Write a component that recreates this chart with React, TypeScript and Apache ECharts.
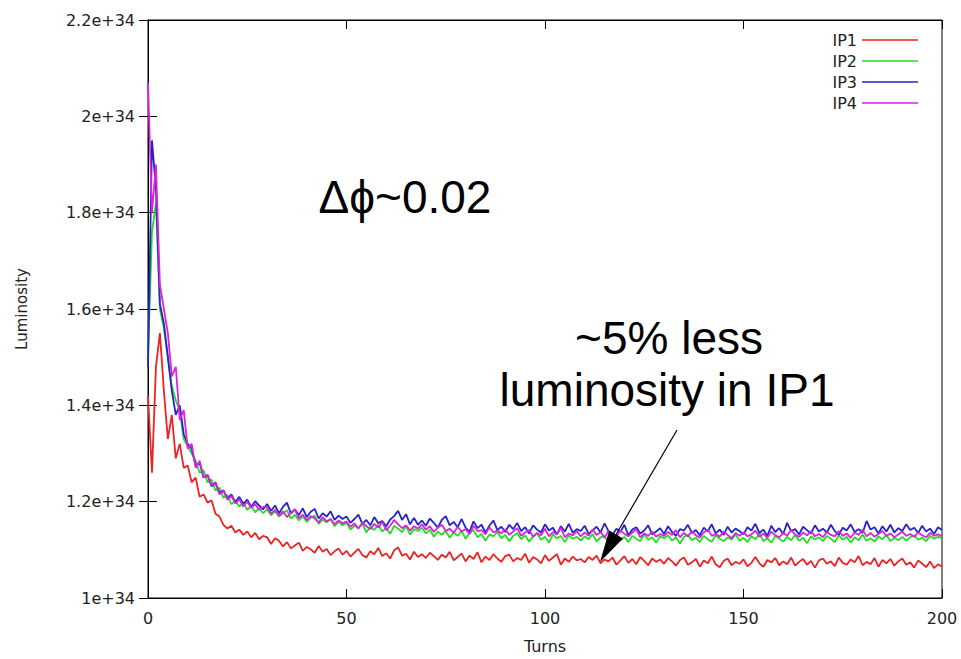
import React, { useEffect, useRef } from "react";
import * as echarts from "echarts";

// Luminosity values in units of 1e32 (one value per turn, turns 0..200)
const ip1: number[] = [
  142, 126, 148, 155, 143, 133, 138, 129, 132, 127, 127.5, 124, 125, 121, 121.5,
  119.8, 120.3, 117.5, 116.9, 115.2, 114.4, 115.0, 113.6, 114.2, 113.1, 113.8, 112.6, 113.5, 112.2, 112.9,
  112.6, 111.2, 112.4, 111.9, 110.7, 111.6, 110.3, 110.9, 111.5, 109.8, 110.6, 110.1, 109.4, 110.8, 109.6, 110.2, 108.9, 109.7, 110.3, 109.0,
  109.8, 108.6, 109.4, 110.2, 108.9, 108.4, 109.7, 109.1, 110.4, 108.7, 109.3, 108.2, 109.9, 110.5, 108.8, 109.2, 108.0, 109.6, 108.5, 109.1,
  108.3, 109.4, 108.7, 107.9, 109.0, 108.4, 109.6, 107.8, 108.5, 109.2, 107.6, 108.8, 108.1, 109.5, 107.4, 108.6, 107.9, 109.1, 108.2, 107.5,
  108.7, 109.0, 107.6, 108.3, 107.9, 109.2, 107.3, 108.5, 108.0, 107.2, 108.9, 107.7, 108.4, 109.1, 106.9, 108.2, 107.5, 108.6, 107.8, 108.1,
  107.4, 108.5, 107.9, 108.8, 107.2, 108.0, 107.6, 108.4, 106.9, 107.8, 108.7, 107.3, 108.1, 107.0, 108.5, 107.7, 106.8, 108.2, 107.5, 108.0,
  107.1, 108.3, 107.6, 106.7, 107.9, 108.4, 106.9, 107.4, 108.1, 106.5, 107.8, 107.2, 108.6, 107.0, 106.4, 107.7, 108.2, 106.8, 107.5, 107.1,
  108.0, 106.6, 107.3, 108.5, 107.2, 106.5, 107.9, 107.4, 108.3, 106.8, 107.6, 107.0, 108.4, 106.7, 107.5, 108.1, 106.9, 107.7, 106.3, 107.8,
  108.2, 107.1, 107.6, 106.6, 108.4, 107.3, 106.9, 108.0, 107.4, 108.7, 106.8, 107.5, 107.0, 108.3, 106.5, 107.9, 107.2, 108.1, 106.7, 107.6,
  108.2, 106.9, 107.4, 106.3, 107.8, 107.1, 106.4, 107.6, 106.2, 107.0, 106.5,
];

const ip2: number[] = [
  150, 176, 182, 160, 156, 150, 144, 141, 139, 133, 131.5, 130, 128.5, 126, 126.5,
  124.0, 124.6, 122.3, 122.9, 120.8, 121.4, 119.5, 120.2, 119.0, 119.8, 118.3, 119.1, 117.8, 118.6, 117.6,
  118.4, 117.2, 118.0, 116.9, 117.6, 118.2, 116.5, 117.3, 116.1, 117.0, 115.8, 116.7, 117.1, 115.4, 116.3, 115.7, 116.4, 114.9, 115.8, 115.1,
  115.6, 114.2, 115.0, 114.5, 115.4, 113.6, 114.8, 114.1, 115.2, 113.8, 114.6, 113.3, 115.0, 114.4, 113.7, 114.9, 113.2, 114.3, 113.9, 114.6,
  113.4, 114.2, 112.7, 113.8, 113.1, 114.0, 112.5, 113.6, 112.9, 113.9, 112.3, 113.5, 114.1, 112.6, 113.3, 111.9, 113.2, 112.8, 113.7, 112.4,
  113.1, 111.8, 112.9, 113.5, 112.2, 113.0, 111.7, 112.8, 113.4, 112.1, 112.7, 111.5, 113.2, 112.4, 112.9, 111.6, 113.0, 112.3, 112.7, 111.9,
  112.8, 112.2, 113.3, 111.7, 112.6, 112.9, 111.4, 112.5, 113.1, 112.0, 112.7, 111.6, 112.9, 112.3, 111.8, 113.2, 112.1, 112.6, 111.5, 112.8,
  112.4, 113.0, 111.9, 112.6, 111.3, 112.7, 113.1, 112.0, 112.5, 111.6, 112.9, 112.2, 111.7, 113.0, 112.3, 111.8, 112.6, 112.1, 113.2, 111.9,
  112.5, 111.6, 112.8, 112.2, 113.4, 111.8, 112.4, 111.5, 112.9, 112.3, 111.7, 112.7, 112.0, 113.1, 111.9, 112.5, 111.4, 112.8, 112.2, 112.6,
  111.8, 112.9, 112.3, 111.6, 113.0, 112.1, 112.7, 111.5, 112.6, 112.0, 113.2, 111.9, 112.4, 111.7, 112.8, 112.2, 113.1, 111.8, 112.5, 112.0,
  112.7, 111.9, 112.6, 113.0, 112.1, 112.5, 111.8, 112.9, 112.3, 112.7, 112.4,
];

const ip3: number[] = [
  148, 195, 185, 161, 157, 150, 143, 138, 140, 134, 132, 131, 127.5, 128, 125,
  125.5, 123.2, 124.0, 121.8, 122.4, 120.6, 121.5, 119.9, 121.0, 119.6, 120.4, 118.9, 120.1, 119.2, 118.4,
  119.5, 118.1, 119.2, 117.6, 118.9, 119.8, 117.5, 118.4, 117.2, 118.6, 116.8, 117.9, 118.5, 116.5, 117.6, 116.9, 118.0, 116.2, 117.1, 116.4,
  116.9, 115.6, 116.4, 117.3, 115.4, 116.2, 115.1, 116.8, 115.5, 116.0, 114.9, 116.3, 117.0, 118.1, 116.2, 117.4, 115.3, 116.6, 115.2, 116.1,
  115.0, 116.5, 115.6, 114.6, 116.2, 117.0, 115.1, 115.8, 114.7, 116.4, 114.6, 113.8, 115.9, 114.5, 115.2, 113.6, 115.0, 116.1, 114.1, 114.8,
  113.7, 115.2, 114.3, 115.6, 113.9, 114.7, 113.4, 115.1, 114.2, 113.6, 115.3, 114.0, 114.6, 113.2, 114.9, 113.8, 115.4, 113.5, 114.3, 113.9,
  115.0, 113.3, 114.1, 114.8, 113.6, 115.5, 113.9, 113.1, 114.4, 113.7, 115.2, 113.0, 114.2, 114.7, 113.4, 114.0, 115.1, 113.2, 113.8, 114.5,
  113.3, 114.9, 113.7, 112.9, 114.3, 114.0, 115.2, 113.5, 114.1, 113.0, 114.6, 113.8, 115.3, 113.4, 114.2, 113.1, 114.8, 113.6, 114.4, 113.9,
  113.2, 114.7, 114.0, 115.4, 113.5, 114.2, 112.9, 115.0, 113.7, 114.5, 113.3, 115.6, 113.9, 114.3, 113.2, 114.8, 114.1, 113.4, 115.1, 113.8,
  114.4, 113.6, 115.2, 113.9, 113.1, 114.6, 114.0, 115.3, 113.7, 114.3, 113.5, 116.0, 114.2, 114.7, 113.4, 114.9, 113.8, 115.2, 113.6, 114.5,
  113.9, 115.3, 114.1, 114.6, 113.5, 115.0, 113.8, 114.4, 113.3, 114.7, 114.1,
];

const ip4: number[] = [
  207, 180, 190, 165, 160, 155, 146, 148, 137, 139, 131, 132, 127, 128.5, 125,
  125.6, 123.5, 123.8, 121.5, 122.3, 120.4, 121.2, 119.6, 120.5, 119.0, 120.0, 118.7, 119.5, 118.3, 118.9,
  118.8, 117.5, 118.3, 117.1, 118.0, 116.8, 117.7, 118.4, 116.6, 117.3, 116.2, 117.0, 116.5, 115.7, 116.8, 115.9, 116.4, 115.3, 116.1, 115.5,
  115.9, 114.8, 115.5, 114.4, 115.7, 114.9, 114.3, 115.4, 114.6, 115.8, 114.1, 115.0, 116.2, 115.3, 114.5, 115.1, 114.0, 114.9, 114.4, 115.3,
  114.2, 114.9, 113.7, 114.6, 115.2, 113.9, 114.4, 113.5, 114.8, 113.8, 114.3, 113.3, 115.0, 113.9, 114.1, 113.2, 114.7, 113.6, 114.0, 113.4,
  114.3, 113.1, 113.8, 114.5, 112.9, 113.6, 114.1, 112.7, 113.5, 113.0, 114.4, 112.8, 113.7, 113.2, 114.6, 112.6, 113.4, 113.0, 113.9, 112.8,
  113.6, 112.9, 114.2, 113.1, 113.7, 112.5, 113.9, 113.2, 112.7, 114.0, 113.3, 112.8, 113.6, 114.3, 112.6, 113.4, 112.9, 113.8, 112.7, 113.3,
  112.9, 113.7, 113.1, 114.1, 112.6, 113.5, 112.8, 113.9, 113.0, 112.5, 113.6, 114.2, 112.9, 113.3, 112.7, 113.8, 113.1, 112.4, 113.5, 112.9,
  113.6, 112.8, 113.2, 114.0, 112.7, 113.4, 112.5, 113.8, 113.0, 112.6, 113.5, 112.9, 114.1, 113.2, 112.7, 113.6, 113.0, 113.9, 112.8, 113.3,
  112.6, 113.7, 113.1, 112.8, 113.9, 112.9, 113.4, 112.5, 113.6, 113.1, 114.2, 112.8, 113.5, 112.7, 113.3, 113.9, 112.9, 113.4, 112.6, 113.2,
  113.8, 112.9, 113.3, 112.7, 113.6, 113.0, 112.6, 113.5, 112.9, 113.2, 112.8,
];

const seriesNames = ["IP1", "IP2", "IP3", "IP4"];
const seriesColors = ["#ee2222", "#22dd22", "#2424c8", "#dd22dd"];
const seriesValues = [ip1, ip2, ip3, ip4];
const UNIT = 1e32;

const X_MIN = 0;
const X_MAX = 200;
const X_STEP = 50;
const Y_MIN = 1e34;
const Y_MAX = 2.2e34;
const Y_STEP = 2e33;

const fmtY = (v: number) => {
  const m = Math.round(v / 1e32) / 100;
  return `${m}e+34`;
};

export default function App() {
  const ref = useRef<HTMLDivElement>(null);

  useEffect(() => {
    document.body.style.margin = "0";
    const chart = echarts.init(ref.current!, null, { renderer: "svg" });
    const font = "DejaVu Sans";
    const tick = { show: true, inside: true, length: 9, lineStyle: { color: "#000", width: 1 } };
    const option: any = {
      animation: false,
      backgroundColor: "#fff",
      grid: {
        left: 148,
        right: 19,
        top: 20,
        bottom: 59,
        show: true,
        borderColor: "#000",
        borderWidth: 1,
        backgroundColor: "#fff",
      },
      legend: {
        data: seriesNames,
        orient: "vertical",
        right: 38,
        top: 27,
        align: "right",
        icon: "rect",
        itemWidth: 56,
        itemHeight: 1.5,
        itemGap: 5,
        textStyle: { fontFamily: font, fontSize: 16, color: "#222", lineHeight: 16 },
      },
      xAxis: [
        {
          type: "value",
          min: X_MIN,
          max: X_MAX,
          interval: X_STEP,
          name: "Turns",
          nameLocation: "middle",
          nameGap: 40,
          nameTextStyle: { fontFamily: font, fontSize: 16, color: "#222" },
          axisLine: { show: true, lineStyle: { color: "#000", width: 1 } },
          axisTick: tick,
          axisLabel: { fontFamily: font, fontSize: 16, color: "#222", margin: 12 },
          splitLine: { show: false },
        },
        {
          type: "value",
          position: "top",
          min: X_MIN,
          max: X_MAX,
          interval: X_STEP,
          axisLine: { show: true, lineStyle: { color: "#000", width: 1 } },
          axisTick: tick,
          axisLabel: { show: false },
          splitLine: { show: false },
        },
      ],
      yAxis: [
        {
          type: "value",
          min: Y_MIN,
          max: Y_MAX,
          interval: Y_STEP,
          name: "Luminosity",
          nameLocation: "middle",
          nameGap: 119,
          nameTextStyle: { fontFamily: font, fontSize: 15, color: "#222" },
          axisLine: { show: true, lineStyle: { color: "#000", width: 1 } },
          axisTick: tick,
          axisLabel: { fontFamily: font, fontSize: 16, color: "#222", margin: 13, formatter: fmtY },
          splitLine: { show: false },
        },
        {
          type: "value",
          position: "right",
          min: Y_MIN,
          max: Y_MAX,
          interval: Y_STEP,
          axisLine: { show: true, lineStyle: { color: "#000", width: 1 } },
          axisTick: tick,
          axisLabel: { show: false },
          splitLine: { show: false },
        },
      ],
      series: seriesNames.map((name, k) => ({
        name,
        type: "line",
        xAxisIndex: 0,
        yAxisIndex: 0,
        showSymbol: false,
        symbol: "none",
        color: seriesColors[k],
        lineStyle: { color: seriesColors[k], width: 1.8 },
        emphasis: { disabled: true },
        data: seriesValues[k].map((v, i) => [i, v * UNIT]),
      })),
      graphic: [
        {
          type: "text",
          x: 405,
          y: 197,
          z: 100,
          style: {
            text: "Δϕ~0.02",
            fontFamily: "Liberation Sans",
            fontSize: 46,
            fill: "#000",
            align: "center",
            verticalAlign: "middle",
          },
        },
        {
          type: "text",
          x: 669,
          y: 338,
          z: 100,
          style: {
            text: "~5% less",
            fontFamily: "Liberation Sans",
            fontSize: 46,
            fill: "#000",
            align: "center",
            verticalAlign: "middle",
          },
        },
        {
          type: "text",
          x: 667,
          y: 390,
          z: 100,
          style: {
            text: "luminosity in IP1",
            fontFamily: "Liberation Sans",
            fontSize: 46,
            fill: "#000",
            align: "center",
            verticalAlign: "middle",
          },
        },
        {
          type: "line",
          z: 100,
          shape: { x1: 677, y1: 430, x2: 614, y2: 538 },
          style: { stroke: "#000", lineWidth: 1.2 },
        },
        {
          type: "polygon",
          z: 100,
          shape: { points: [[600, 562], [623, 538.4], [609.2, 530.4]] },
          style: { fill: "#000" },
        },
      ],
    };
    chart.setOption(option);
    return () => chart.dispose();
  }, []);

  return <div ref={ref} style={{ width: 961, height: 659 }} />;
}
